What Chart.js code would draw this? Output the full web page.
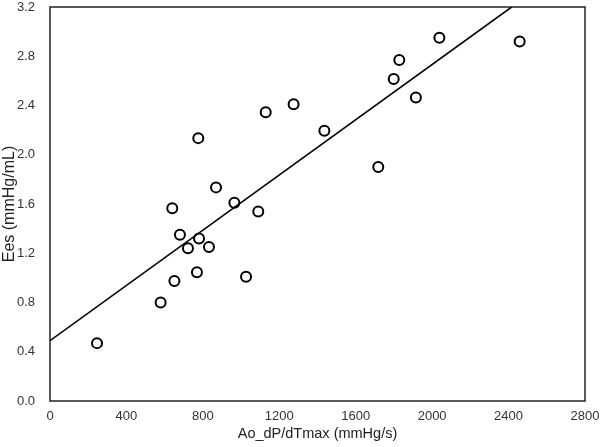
<!DOCTYPE html>
<html>
<head>
<meta charset="utf-8">
<script src="https://cdn.jsdelivr.net/npm/chart.js@4"></script>
<style>
  html, body { margin: 0; padding: 0; background: #fff; }
  #wrap { width: 600px; height: 447px; }
</style>
</head>
<body>
<div id="wrap"><canvas id="ScatterChart"></canvas></div>
<script>
// Ao_dP/dTmax (mmHg/s) vs Ees (mmHg/mL)
var dpdtValues = [246, 579, 651, 640, 680, 780, 722, 832, 769, 1026, 869, 965,
                  1090, 776, 1129, 1275, 1436, 1718, 1799, 1828, 1915, 2038, 2458];
var eesValues = [0.47, 0.80, 0.975, 1.565, 1.35, 1.32, 1.24, 1.25, 1.045, 1.01, 1.735, 1.61,
                 1.54, 2.135, 2.345, 2.41, 2.195, 1.90, 2.615, 2.77, 2.465, 2.95, 2.92];

// regression line end points
var fitX = [0, 2416];
var fitY = [0.49, 3.2];

var xTicks = [0, 400, 800, 1200, 1600, 2000, 2400, 2800];
var yTicks = [0.0, 0.4, 0.8, 1.2, 1.6, 2.0, 2.4, 2.8, 3.2];

var points = dpdtValues.map(function (x, i) {
    return { x: x, y: eesValues[i] };
});
var fitLine = fitX.map(function (x, i) {
    return { x: x, y: fitY[i] };
});

var boxPlugin = {
    id: 'box',
    beforeDatasetsDraw: function (chart) {
        var a = chart.chartArea;
        var ctx = chart.ctx;
        ctx.save();
        ctx.strokeStyle = '#222';
        ctx.lineWidth = 1.5;
        ctx.strokeRect(a.left, a.top, a.right - a.left, a.bottom - a.top);
        ctx.restore();
    }
};

var tickFont = { family: 'Liberation Sans, Arial', size: 13 };

var config = {
    type: 'scatter',
    data: {
        datasets: [{
            label: 'Ees',
            data: points,
            pointRadius: 5,
            pointHoverRadius: 5,
            pointBorderWidth: 2,
            pointBorderColor: '#000',
            pointBackgroundColor: 'rgba(255,255,255,0)',
            showLine: false
        }, {
            label: 'fit',
            data: fitLine,
            showLine: true,
            borderColor: '#000',
            borderWidth: 1.6,
            pointRadius: 0
        }]
    },
    options: {
        responsive: true,
        maintainAspectRatio: false,
        animation: false,
        layout: { padding: { top: 7, right: 15, left: 0, bottom: 0 } },
        plugins: {
            legend: { display: false },
            tooltip: { enabled: false }
        },
        scales: {
            x: {
                type: 'linear',
                min: 0,
                max: 2800,
                grid: { display: false },
                border: { display: false },
                afterBuildTicks: function (scale) {
                    scale.ticks = xTicks.map(function (v) { return { value: v }; });
                },
                ticks: {
                    color: '#333',
                    font: tickFont,
                    padding: 0,
                    maxRotation: 0,
                    callback: function (v) { return String(v); }
                },
                title: {
                    display: true,
                    text: 'Ao_dP/dTmax (mmHg/s)',
                    color: '#222',
                    font: { family: 'Liberation Sans, Arial', size: 14.5 },
                    padding: { top: 4, bottom: 4 }
                },
                afterFit: function (scale) {
                    scale.height = 46;
                    scale.paddingLeft = 0;
                    scale.paddingRight = 0;
                }
            },
            y: {
                type: 'linear',
                min: 0,
                max: 3.2,
                grid: { display: false },
                border: { display: false },
                afterBuildTicks: function (scale) {
                    scale.ticks = yTicks.map(function (v) { return { value: v }; });
                },
                ticks: {
                    color: '#333',
                    font: tickFont,
                    padding: 7,
                    callback: function (v) { return Number(v).toFixed(1); }
                },
                title: {
                    display: true,
                    text: 'Ees (mmHg/mL)',
                    color: '#222',
                    font: { family: 'Liberation Sans, Arial', size: 16 },
                    padding: { top: 0, bottom: 0 }
                },
                afterFit: function (scale) {
                    scale.width = 50;
                    scale.paddingTop = 0;
                    scale.paddingBottom = 0;
                }
            }
        }
    },
    plugins: [boxPlugin]
};

var scatterChart = new Chart(document.getElementById('ScatterChart'), config);
</script>
</body>
</html>
